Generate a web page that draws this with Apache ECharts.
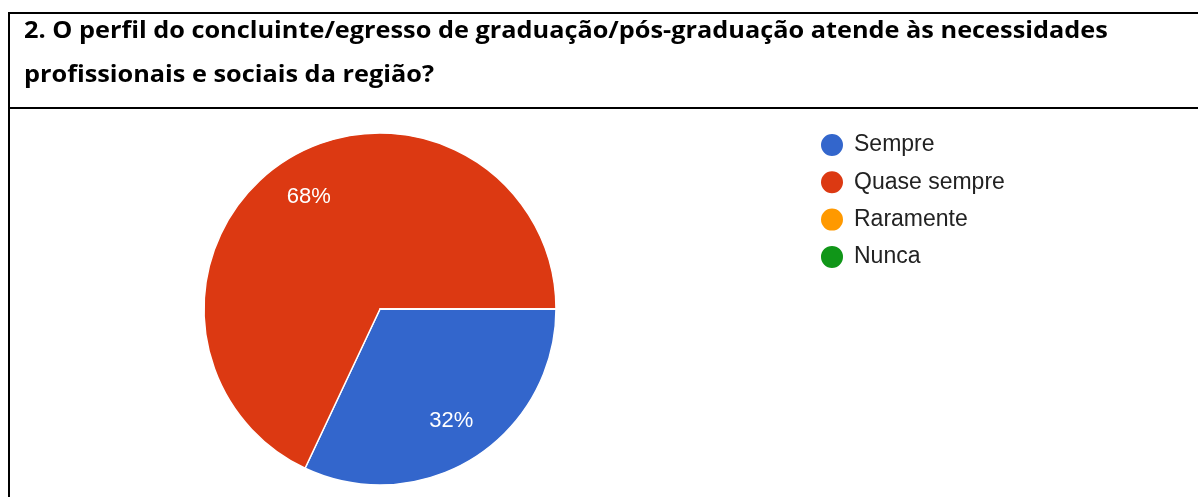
<!DOCTYPE html>
<html>
<head>
<meta charset="utf-8">
<script src="https://cdn.jsdelivr.net/npm/echarts@6/dist/echarts.min.js"></script>
<style>
  html, body { margin: 0; padding: 0; background: #fff; }
  #chart { width: 1198px; height: 497px; }
</style>
</head>
<body>
<div id="chart"></div>
<script>
// Survey answers for question 2
const categories = ['Sempre', 'Quase sempre', 'Raramente', 'Nunca'];
const values = [32, 68, 0, 0];
const colors = ['#3366cc', '#dc3912', '#ff9900', '#109618'];
const titleLines = [
  '2. O perfil do concluinte/egresso de graduação/pós-graduação atende às necessidades',
  'profissionais e sociais da região?'
];

const pieData = categories.map((name, i) => ({
  name: name,
  value: values[i],
  itemStyle: { color: colors[i] }
}));

const chart = echarts.init(document.getElementById('chart'), null, { renderer: 'canvas' });

const PIE_CENTER = [380, 309];
const PIE_R = 176;

chart.setOption({
  animation: false,
  backgroundColor: '#ffffff',
  graphic: [
    // table frame: top rule, rule under the question, left edge
    { type: 'rect', shape: { x: 8, y: 12, width: 1190, height: 2 }, style: { fill: '#000' } },
    { type: 'rect', shape: { x: 8, y: 107, width: 1190, height: 2 }, style: { fill: '#000' } },
    { type: 'rect', shape: { x: 8, y: 12, width: 2, height: 485 }, style: { fill: '#000' } },
    {
      type: 'text', x: 24, y: 9, scaleX: 1.10,
      style: {
        text: titleLines.join('\n'),
        font: 'bold 23px "Open Sans", sans-serif',
        lineHeight: 44,
        verticalAlign: 'top',
        fill: '#000'
      }
    }
  ],
  legend: {
    orient: 'vertical',
    left: 814,
    top: 127,
    icon: 'circle',
    itemWidth: 24,
    itemHeight: 24,
    itemGap: 11.3,
    selectedMode: false,
    textStyle: {
      fontFamily: '"Liberation Sans", Arial, sans-serif',
      fontSize: 23,
      color: '#222',
      padding: [0, 0, 0, 5]
    },
    data: categories.map((name, i) => ({ name: name, itemStyle: { color: colors[i] } }))
  },
  series: [
    {
      type: 'pie',
      center: PIE_CENTER,
      radius: [0, PIE_R],
      startAngle: 0,
      clockwise: true,
      data: pieData,
      label: { show: false },
      labelLine: { show: false },
      itemStyle: { borderColor: '#ffffff', borderWidth: 1.5 },
      emphasis: { disabled: true }
    },
    {
      // invisible ring that carries the percentage labels further out
      type: 'pie',
      silent: true,
      center: PIE_CENTER,
      radius: [84, PIE_R],
      startAngle: 0,
      clockwise: true,
      data: pieData.map(d => ({ name: d.name, value: d.value })),
      itemStyle: { color: 'rgba(0,0,0,0)' },
      label: {
        show: true,
        position: 'inside',
        color: '#ffffff',
        fontFamily: '"Liberation Sans", Arial, sans-serif',
        fontSize: 22,
        formatter: p => (p.value > 0 ? Math.round(p.percent) + '%' : '')
      },
      labelLine: { show: false },
      emphasis: { disabled: true }
    }
  ]
});
</script>
</body>
</html>
